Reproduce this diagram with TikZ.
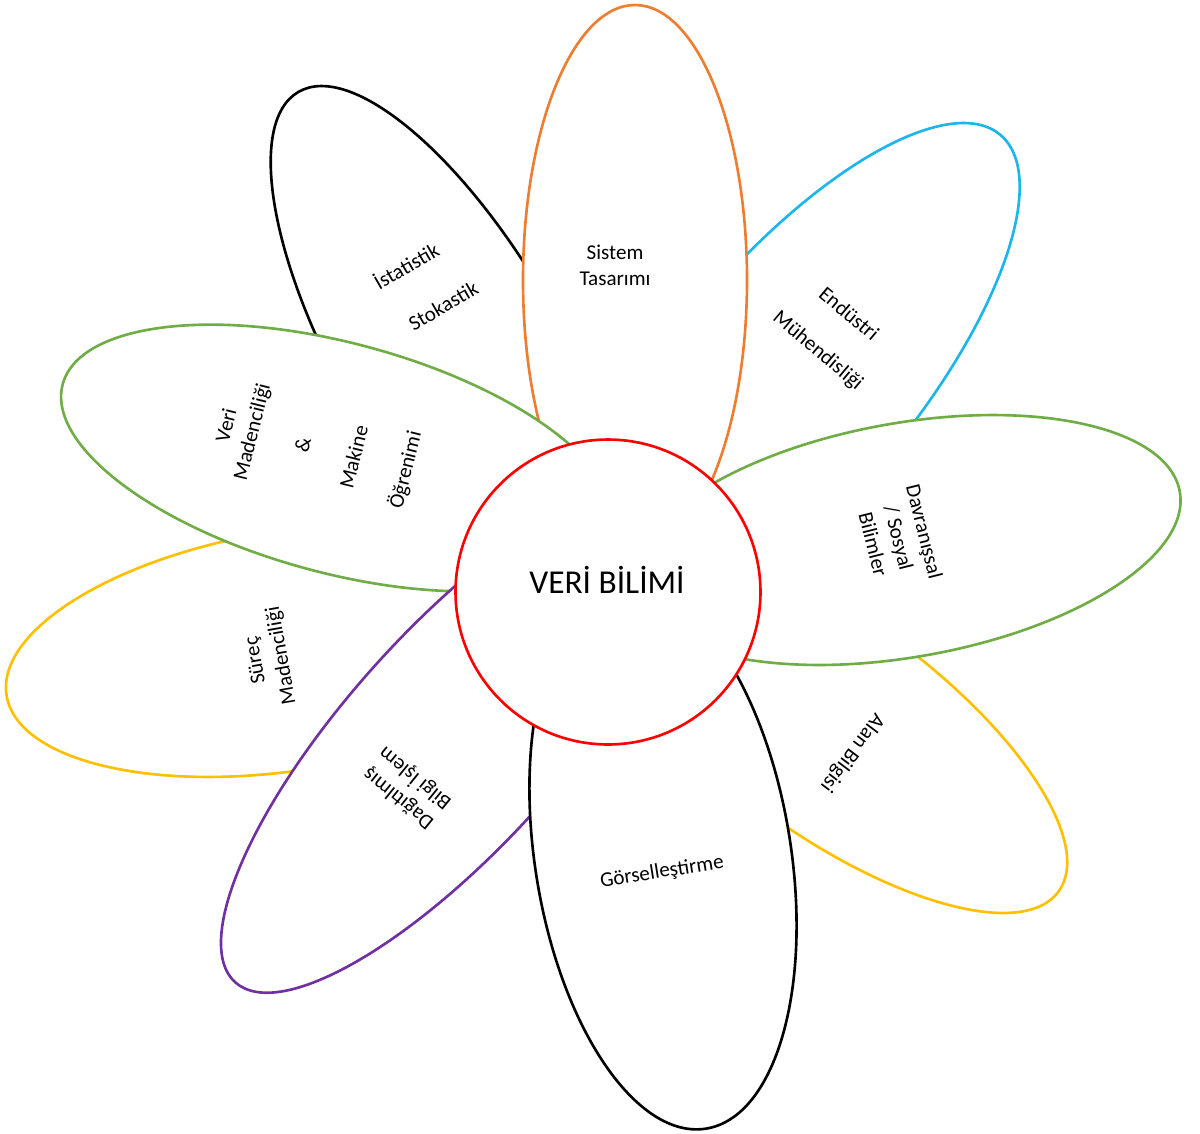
\documentclass[tikz,border=0pt]{standalone}
\usepackage{fontspec}
\setmainfont{Carlito}
\usepackage{tikz}
\usetikzlibrary{positioning}

\definecolor{petalorange}{HTML}{ED7D31}
\definecolor{petalblue}{HTML}{1CB5EC}
\definecolor{petalgreen}{HTML}{70AD47}
\definecolor{petalyellow}{HTML}{FFC000}
\definecolor{petalpurple}{HTML}{7030A0}

\begin{document}
\begin{tikzpicture}[x=0.02cm,y=-0.02cm,
  every node/.style={font=\fontsize{12}{15}\selectfont},
  petal/.style={draw=#1,line width=1.5pt,fill=white},
  lbl/.style={align=center,inner sep=1pt},
  hub/.style={circle,draw=red,line width=1.5pt,fill=white,minimum size=6.1cm}]
\path[fill=white,use as bounding box] (0,0) rectangle (1200,1133);

\draw[petal=black,rotate around={120:(451,356)}] (451,356) ellipse (305 and 111);
\draw[petal=petalblue,rotate around={50:(792,383)}] (792,383) ellipse (324 and 120);
\draw[petal=petalyellow,rotate around={9:(293,650)}] (293,650) ellipse (290 and 120);
\draw[petal=petalyellow,rotate around={-36:(828,724)}] (828,724) ellipse (285 and 108);
\draw[petal=petalorange] (635,280) ellipse (112 and 275);
\draw[petal=petalgreen,rotate around={-15:(338,458)}] (338,458) ellipse (285 and 115);
\draw[petal=petalgreen,rotate around={10:(906,540)}] (906,540) ellipse (278 and 117);
\draw[petal=petalpurple,rotate around={48:(456,737)}] (456,737) ellipse (330 and 108);
\draw[petal=black,rotate around={99:(663,857)}] (663,857) ellipse (275 and 128);

\node[lbl] (sistem) at (615,265) {Sistem\\Tasarımı};
\node[lbl,rotate=30] (istat) at (419,288) {İstatistik\\[15pt]\hspace*{0.48cm}Stokastik};
\node[lbl,rotate=-40] (endustri) at (833,333) {Endüstri\\[12pt]Mühendisliği};
\node[lbl,rotate=76] (makine) at (317,448) {Veri\\Madenciliği\\[15pt]\&\\[15pt]Makine\\[15pt]Öğrenimi};
\node[lbl,rotate=-76] (davranis) at (899,538) {Davranışsal\\/ Sosyal\\Bilimler};
\node[lbl,rotate=100] (surec) at (269,658) {Süreç\\Madenciliği};
\node[lbl,rotate=141] (dagitik) at (407,788) {Dağıtılmış\\Bilgi İşlem};
\node[lbl,rotate=9] (gorsel) at (662,872) {Görselleştirme};
\node[lbl,rotate=233] (alan) at (852,753) {Alan Bilgisi};

\node[hub] (hub) at (608,592) {};
\node[font=\fontsize{19}{22}\selectfont] (baslik) at (607,580) {VERİ BİLİMİ};
\end{tikzpicture}
\end{document}
